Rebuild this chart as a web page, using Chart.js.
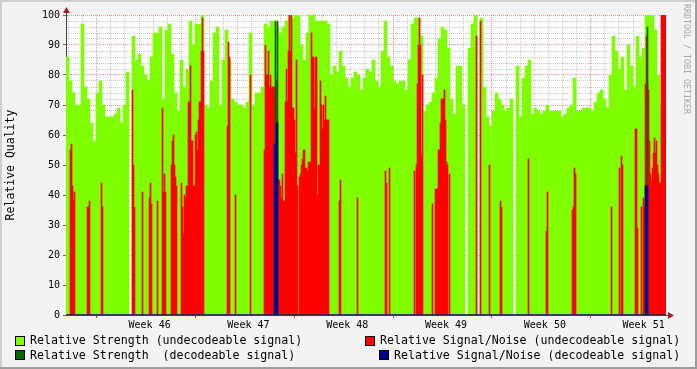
<!DOCTYPE html>
<html>
<head>
<meta charset="utf-8">
<script src="https://cdn.jsdelivr.net/npm/chart.js@4.4.1/dist/chart.umd.min.js"></script>
<style>
html, body { margin: 0; padding: 0; background: #f3f3f3; }
#wrap { position: relative; width: 697px; height: 369px; overflow: hidden; }
#chart { position: absolute; left: 0; top: 0; }
.lg { position: absolute; font-family: "DejaVu Sans Mono", monospace; font-size: 11.6px; line-height: 14px; color: #000; white-space: pre; }
.sw { position: absolute; width: 8px; height: 8px; border: 1px solid #000; }
#credit { position: absolute; left: 682px; top: 4px; writing-mode: vertical-rl; font-family: "DejaVu Sans Mono", monospace; font-size: 8.3px; line-height: 10px; color: #a8a8a8; white-space: pre; }
</style>
</head>
<body>
<div id="wrap">
  <canvas id="chart" width="697" height="369"></canvas>
  <div id="credit">RRDTOOL / TOBI OETIKER</div>
  <div class="sw" style="left:15px;top:336px;background:#80ff00"></div>
  <div class="lg" style="left:30px;top:333px">Relative Strength (undecodeable signal)</div>
  <div class="sw" style="left:15px;top:350px;background:#006400"></div>
  <div class="lg" style="left:30px;top:348px">Relative Strength  (decodeable signal)</div>
  <div class="sw" style="left:365px;top:336px;background:#ff0000"></div>
  <div class="lg" style="left:380px;top:333px">Relative Signal/Noise (undecodeable signal)</div>
  <div class="sw" style="left:379px;top:350px;background:#000090"></div>
  <div class="lg" style="left:394px;top:348px">Relative Signal/Noise (decodeable signal)</div>
</div>
<script>
// strength: one value per coarse slot (3 fine slots each), left to right
const strengthUndec = [
  86, 78, 74, 70, 70, 97, 76, 72, 64, 58,
  74, 78, 70, 66, 66, 66, 67, 69, 64, 70,
  81, 0, 93, 85, 87, 83, 80, 78, 86, 94,
  94, 96, 72, 95, 97, 87, 74, 68, 85, 76,
  82, 98, 90, 97, 97, 100, 70, 69, 78, 94,
  96, 70, 85, 95, 85, 72, 71, 70, 70, 69,
  71, 94, 70, 74, 74, 76, 97, 96, 98, 98,
  96, 94, 96, 98, 100, 99, 100, 100, 90, 85,
  94, 100, 100, 98, 98, 98, 98, 97, 80, 83,
  81, 88, 83, 79, 76, 79, 81, 80, 75, 79,
  82, 81, 85, 78, 76, 88, 98, 86, 83, 78,
  77, 78, 78, 75, 85, 97, 99, 99, 93, 68,
  70, 71, 74, 79, 92, 96, 95, 89, 72, 67,
  83, 83, 70, 0, 89, 97, 100, 0, 99, 76,
  66, 63, 68, 74, 72, 70, 68, 69, 72, 0,
  83, 66, 79, 83, 85, 67, 69, 68, 67, 68,
  70, 68, 68, 68, 68, 66, 67, 69, 70, 79,
  68, 68, 69, 69, 69, 68, 71, 74, 75, 72,
  69, 80, 93, 88, 82, 86, 75, 90, 83, 76,
  93, 86, 89, 100, 100, 100, 95, 80, 70, 0
];

// signal/noise (undecodeable): sparse, fine slot index -> value
const snrUndecSlots = [
  4, 5, 6, 7, 8, 21, 22, 23, 35, 36,
  66, 67, 68, 76, 83, 84, 85, 91, 96, 97,
  98, 99, 105, 106, 107, 108, 109, 110, 115, 116,
  117, 118, 119, 120, 121, 122, 123, 124, 125, 126,
  127, 128, 129, 130, 131, 132, 133, 134, 135, 136,
  137, 161, 162, 163, 169, 184, 198, 199, 200, 201,
  202, 203, 204, 205, 206, 207, 208, 210, 212, 213,
  214, 215, 216, 217, 218, 219, 220, 221, 222, 223,
  224, 225, 226, 227, 228, 229, 230, 231, 233, 234,
  235, 236, 237, 238, 239, 240, 241, 242, 243, 244,
  245, 246, 247, 248, 249, 250, 251, 252, 253, 254,
  255, 256, 257, 258, 259, 260, 261, 262, 273, 274,
  291, 319, 320, 323, 348, 350, 351, 352, 353, 354,
  355, 356, 366, 369, 370, 371, 372, 373, 374, 375,
  376, 377, 378, 379, 380, 381, 383, 410, 414, 423,
  434, 435, 462, 480, 481, 506, 507, 508, 509, 545,
  553, 555, 556, 569, 570, 571, 575, 577, 578, 579,
  580, 581, 582, 583, 584, 585, 586, 587, 588, 589,
  590, 591, 592, 593, 594, 595, 596, 597, 598, 599
];
const snrUndecValues = [
  55, 57, 43, 38, 41, 36, 36, 38, 44, 36,
  75, 50, 36, 41, 39, 44, 37, 38, 69, 41,
  47, 41, 50, 58, 60, 50, 46, 43, 44, 36,
  27, 40, 39, 43, 43, 71, 71, 83, 58, 58,
  43, 43, 60, 61, 55, 65, 71, 71, 88, 99,
  88, 63, 91, 86, 40, 80, 55, 90, 80, 80,
  88, 76, 80, 76, 76, 76, 76, 78, 45, 45,
  43, 39, 47, 38, 38, 71, 82, 71, 88, 100,
  88, 100, 69, 69, 65, 54, 85, 43, 46, 47,
  50, 52, 55, 55, 49, 49, 48, 51, 51, 51,
  94, 86, 86, 69, 86, 86, 40, 50, 50, 78,
  70, 62, 70, 65, 73, 65, 65, 65, 38, 45,
  39, 48, 44, 49, 48, 50, 77, 90, 99, 90,
  53, 80, 37, 42, 42, 42, 55, 55, 64, 72,
  72, 72, 75, 65, 51, 50, 47, 93, 98, 50,
  38, 36, 52, 28, 41, 35, 36, 49, 47, 36,
  49, 53, 50, 62, 62, 29, 36, 39, 36, 77,
  93, 77, 75, 58, 47, 45, 49, 54, 59, 54,
  58, 50, 47, 44, 44, 100, 100, 100, 100, 100
];

// decodeable samples: sparse, fine slot index -> value
const strengthDecSlots = [209, 211, 581];
const strengthDecValues = [98, 98, 96];
const snrDecSlots = [208, 209, 210, 211, 579, 580, 581];
const snrDecValues = [57, 57, 64, 64, 43, 43, 43];

const weekLabels = ['Week 46', 'Week 47', 'Week 48', 'Week 49', 'Week 50', 'Week 51'];
const spanDays = 42;        // visible time span
const firstWeekDay = 2.17;  // first week boundary, days from left edge
const fineSlots = 600;

const coarse = strengthUndec.map((_, i) => i);
const fine = Array.from({ length: fineSlots }, (_, i) => i);
const expand = (idx, vals) => {
  const out = fine.map(() => 0);
  idx.forEach((s, j) => { out[s] = vals[j]; });
  return out;
};

const timeTicks = [];
for (let k = -6; ; k++) {
  const v = firstWeekDay + k / 2;
  if (v > spanDays) break;
  if (v < 0) continue;
  timeTicks.push({ value: v, k: k });
}
const mod14 = k => ((k % 14) + 14) % 14;
const tickK = c => (c && c.tick && c.tick.k !== undefined) ? c.tick.k : 1;

const MONO = 'DejaVu Sans Mono';
const minorGrid = 'rgba(140,140,140,0.45)';
const majorGrid = 'rgba(222,80,80,0.6)';
const none = 'rgba(0,0,0,0)';

const frame = {
  id: 'frame',
  beforeDraw(chart) {
    const { ctx, width, height, chartArea: a } = chart;
    ctx.save();
    ctx.fillStyle = '#f3f3f3';
    ctx.fillRect(0, 0, width, height);
    ctx.fillStyle = '#cfcfcf';
    ctx.fillRect(0, 0, width, 2);
    ctx.fillRect(0, 0, 2, height);
    ctx.fillStyle = '#9e9e9e';
    ctx.fillRect(0, height - 2, width, 2);
    ctx.fillRect(width - 2, 0, 2, height);
    ctx.fillStyle = '#ffffff';
    ctx.fillRect(a.left, a.top, a.right - a.left, a.bottom - a.top);
    ctx.restore();
  },
  afterDraw(chart) {
    const { ctx, chartArea: a } = chart;
    ctx.save();
    ctx.strokeStyle = '#404040';
    ctx.lineWidth = 1;
    ctx.beginPath();
    ctx.moveTo(a.left + 0.5, a.top);
    ctx.lineTo(a.left + 0.5, a.top - 4);
    ctx.moveTo(a.right, a.bottom + 0.5);
    ctx.lineTo(a.right + 3, a.bottom + 0.5);
    ctx.stroke();
    ctx.fillStyle = '#a02020';
    ctx.beginPath();
    ctx.moveTo(a.left - 3, a.top - 2);
    ctx.lineTo(a.left + 4, a.top - 2);
    ctx.lineTo(a.left + 0.5, a.top - 8);
    ctx.closePath();
    ctx.fill();
    ctx.beginPath();
    ctx.moveTo(a.right + 2, a.bottom - 3);
    ctx.lineTo(a.right + 2, a.bottom + 4);
    ctx.lineTo(a.right + 8, a.bottom + 0.5);
    ctx.closePath();
    ctx.fill();
    ctx.restore();
  }
};

const barDefaults = { grouped: false, barPercentage: 1, categoryPercentage: 1, borderWidth: 0 };

new Chart(document.getElementById('chart'), {
  type: 'bar',
  data: {
    labels: coarse,
    datasets: [
      { ...barDefaults, label: 'Relative Strength (undecodeable signal)', data: strengthUndec, xAxisID: 'x', backgroundColor: '#80ff00', order: 4 },
      { ...barDefaults, label: 'Relative Signal/Noise (undecodeable signal)', data: expand(snrUndecSlots, snrUndecValues), xAxisID: 'xf', backgroundColor: '#ff0000', order: 3 },
      { ...barDefaults, label: 'Relative Strength  (decodeable signal)', data: expand(strengthDecSlots, strengthDecValues), xAxisID: 'xf', backgroundColor: '#006400', order: 2 },
      { ...barDefaults, label: 'Relative Signal/Noise (decodeable signal)', data: expand(snrDecSlots, snrDecValues), xAxisID: 'xf', backgroundColor: '#000090', order: 1 }
    ]
  },
  options: {
    responsive: false,
    animation: false,
    devicePixelRatio: 1,
    layout: { padding: { top: 15, right: 31, left: 0, bottom: 0 } },
    plugins: { legend: { display: false }, tooltip: { enabled: false } },
    scales: {
      x: { type: 'category', display: false, offset: true },
      xf: { type: 'category', labels: fine, display: false, offset: true },
      t: {
        type: 'linear', position: 'bottom', min: 0, max: spanDays, z: 1,
        afterBuildTicks: s => { s.ticks = timeTicks.map(t => ({ value: t.value, k: t.k })); },
        afterFit: s => { s.height = 54; },
        grid: {
          color: c => { const k = tickK(c); return mod14(k) === 0 ? majorGrid : (k % 2 === 0 ? minorGrid : none); },
          tickColor: c => mod14(tickK(c)) === 0 ? '#c04040' : none,
          tickLength: 3,
          lineWidth: 1
        },
        border: { display: true, color: '#404040', dash: [1, 1] },
        ticks: {
          autoSkip: false, maxRotation: 0, minRotation: 0, padding: 1,
          color: '#000', font: { family: MONO, size: 10 },
          callback: function (v) {
            const k = Math.round((v - firstWeekDay) * 2);
            if (mod14(k) !== 7) return '';
            return weekLabels[(k - 7) / 14] || '';
          }
        }
      },
      y: {
        min: 0, max: 100, z: 1,
        afterBuildTicks: s => {
          const ticks = [];
          for (let v = 0; v <= 100; v += 2) ticks.push({ value: v });
          s.ticks = ticks;
        },
        afterFit: s => { s.width = 66; },
        grid: {
          color: c => (c && c.tick && c.tick.value % 10 !== 0) ? minorGrid : majorGrid,
          tickColor: c => (c && c.tick && c.tick.value % 10 === 0) ? '#c04040' : none,
          tickLength: 3,
          lineWidth: 1
        },
        border: { display: true, color: '#404040', dash: [1, 1] },
        ticks: {
          autoSkip: false, padding: 3, color: '#000',
          font: { family: MONO, size: 10 },
          callback: v => v % 10 === 0 ? String(v) : ''
        },
        title: {
          display: true, text: 'Relative Quality', color: '#000',
          font: { family: MONO, size: 11.5 },
          padding: { top: 4, bottom: 0 }
        }
      }
    }
  },
  plugins: [frame]
});
</script>
</body>
</html>
